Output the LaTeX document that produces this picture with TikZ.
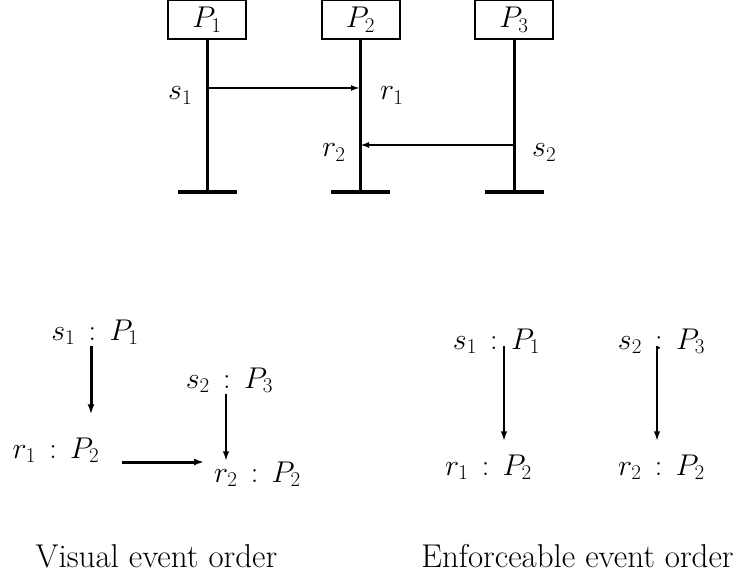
\RequirePackage{fix-cm}
\documentclass[tikz,border=0pt]{standalone}
\usetikzlibrary{arrows.meta}
\begin{document}
\begin{tikzpicture}[x=1pt,y=-1pt,
  big/.style={font=\fontsize{30}{34}\selectfont, inner sep=0pt},
  capt/.style={font=\fontsize{33}{38}\selectfont, inner sep=0pt},
  proc/.style={draw, line width=2pt, minimum width=78pt, minimum height=39pt, inner sep=0pt, font=\fontsize{30}{34}\selectfont},
  life/.style={line width=3pt},
  endbar/.style={fill=black, minimum width=59pt, minimum height=3.4pt, inner sep=0pt, outer sep=0pt},
  msg/.style={line width=2pt, -{Latex[length=9pt,width=6pt]}},
  thk/.style={line width=3pt, -{Latex[length=10pt,width=7pt]}},
  thn/.style={line width=2.2pt, -{Latex[length=10pt,width=6.5pt]}}]
\useasboundingbox (0,0) rectangle (743,577);
% top: processes
\node[proc] (p1) at (207,20) {$P_1$};
\node[proc] (p2) at (360.5,20) {$P_2$};
\node[proc] (p3) at (514,20) {$P_3$};
\node[endbar] (t1) at (207,192) {};
\node[endbar] (t2) at (360,192) {};
\node[endbar] (t3) at (514,192) {};
\draw[life] (p1.south -| t1.center) -- (t1.center);
\draw[life] (p2.south -| t2.center) -- (t2.center);
\draw[life] (p3.south -| t3.center) -- (t3.center);
\coordinate (es1) at (207,88);
\coordinate (er1) at (360,88);
\coordinate (es2) at (514,145);
\coordinate (er2) at (360,145);
\draw[msg] (es1) -- (er1);
\draw[msg] (es2) -- (er2);
\node[big, anchor=base west] (ls1t) at (168,100) {$s_1$};
\node[big, anchor=base west] (lr1t) at (380,100) {$r_1$};
\node[big, anchor=base west] (lr2t) at (322,157) {$r_2$};
\node[big, anchor=base west] (ls2t) at (532,157) {$s_2$};
% bottom left: visual event order
\node[big, anchor=base] (ls1) at (95,340) {$s_1\,:\,P_1$};
\node[big, anchor=base] (ls2) at (229.5,388) {$s_2\,:\,P_3$};
\node[big, anchor=base] (lr1) at (56,458) {$r_1\,:\,P_2$};
\node[big, anchor=base] (lr2) at (257.5,482) {$r_2\,:\,P_2$};
\draw[thk, shorten <=1.5pt, shorten >=23pt] ([xshift=-4pt]ls1.south) -- ([xshift=-4pt]ls1.south |- lr1.north);
\draw[thk, shorten <=23pt, shorten >=10pt] ([yshift=-4pt]lr1.base east) -- ([yshift=-4pt]lr1.base east -| lr2.west);
\draw[thn, shorten <=1.5pt] ([xshift=-3.5pt]ls2.south) -- ([xshift=-3.5pt]ls2.south |- lr2.north);
% bottom right: enforceable event order
\node[big, anchor=base] (rs1) at (496.5,349) {$s_1\,:\,P_1$};
\node[big, anchor=base] (rs2) at (661.5,349) {$s_2\,:\,P_3$};
\node[big, anchor=base] (rr1) at (488.5,475) {$r_1\,:\,P_2$};
\node[big, anchor=base] (rr2) at (661.5,475) {$r_2\,:\,P_2$};
\draw[thn, shorten >=13pt] ([shift={(7.5pt,3pt)}]rs1.base) -- ([xshift=7.5pt]rs1.base |- rr1.north);
\draw[thn, shorten >=13pt] ([shift={(-4.5pt,3pt)}]rs2.base) -- ([xshift=-4.5pt]rs2.base |- rr2.north);
% captions
\node[capt, anchor=base] (cap1) at (156.5,567) {Visual event order};
\node[capt, anchor=base] (cap2) at (577.5,567) {Enforceable event order};
\end{tikzpicture}
\end{document}
